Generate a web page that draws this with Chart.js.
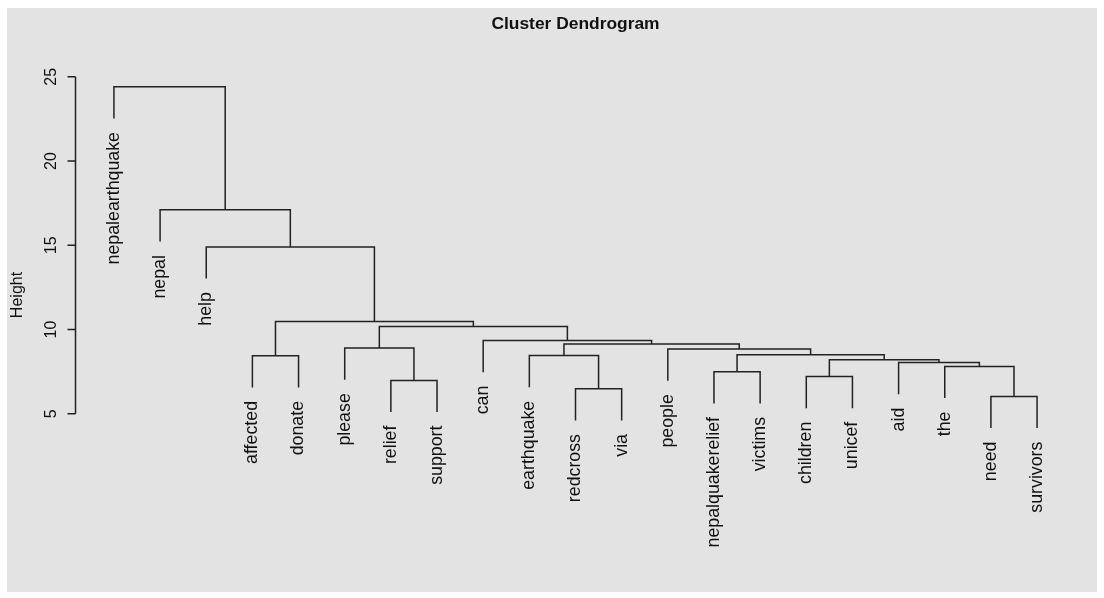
<!DOCTYPE html>
<html>
<head>
<meta charset="utf-8">
<script src="https://cdn.jsdelivr.net/npm/chart.js@4.4.0/dist/chart.umd.min.js"></script>
<style>
  html, body { margin: 0; padding: 0; background: #ffffff; }
  canvas { display: block; }
</style>
</head>
<body>
<canvas id="dendro" width="1104" height="598"></canvas>
<script>
// Leaves in plotting order (left to right)
const leafLabels = ['nepalearthquake', 'nepal', 'help', 'affected', 'donate', 'please', 'relief',
  'support', 'can', 'earthquake', 'redcross', 'via', 'people', 'nepalquakerelief', 'victims',
  'children', 'unicef', 'aid', 'the', 'need', 'survivors'];

// hclust-style merge table: negative = leaf number (1-based, plotting order),
// positive = result of an earlier merge step (1-based)
const mergeLeft   = [-20, -11, -7, -16, -14, -19, -18, 4, -4, -10, 5, -13, -6, 10, -9, 13, 9, -3, -2, -1];
const mergeRight  = [-21, -12, -8, -17, -15, 1, 6, 7, -5, 2, 8, 11, 3, 12, 14, 15, 16, 17, 18, 19];
const mergeHeight = [6.03, 6.48, 6.98, 7.21, 7.49, 7.81, 8.04, 8.20, 8.44, 8.45, 8.50, 8.84, 8.90,
  9.14, 9.35, 10.18, 10.48, 14.9, 17.1, 24.4];

const heightTicks = [5, 10, 15, 20, 25];
const hang = 1.88;          // how far each leaf stem drops below its merge
const LINE = '#222222';
const FONT = '"Liberation Sans", Arial, Helvetica, sans-serif';

// x position of every merge node = midpoint of its two children
const nodeX = [];
function childX(c) { return c < 0 ? -c : nodeX[c - 1]; }
mergeHeight.forEach((h, k) => {
  nodeX[k] = (childX(mergeLeft[k]) + childX(mergeRight[k])) / 2;
});

// parent merge height of every leaf (used for the stem end and the label)
const leafParentHeight = [];
mergeHeight.forEach((h, k) => {
  [mergeLeft[k], mergeRight[k]].forEach(c => { if (c < 0) leafParentHeight[-c - 1] = h; });
});

function childTop(c, h) { return c < 0 ? h - hang : mergeHeight[c - 1]; }

// one "U" shaped link per merge
const datasets = mergeHeight.map((h, k) => {
  const l = mergeLeft[k], r = mergeRight[k];
  const xl = childX(l), xr = childX(r);
  return {
    data: [
      { x: xl, y: childTop(l, h) },
      { x: xl, y: h },
      { x: xr, y: h },
      { x: xr, y: childTop(r, h) }
    ],
    showLine: true,
    borderColor: LINE,
    borderWidth: 1.5,
    pointRadius: 0,
    tension: 0,
    fill: false
  };
});

const dendroDecor = {
  id: 'dendroDecor',
  beforeDraw(chart) {
    const ctx = chart.ctx;
    ctx.save();
    ctx.fillStyle = '#ffffff';
    ctx.fillRect(0, 0, chart.width, chart.height);
    ctx.fillStyle = '#e3e3e3';
    ctx.fillRect(7, 8, 1090, 584);
    ctx.restore();
  },
  afterDraw(chart) {
    const ctx = chart.ctx;
    const xs = chart.scales.x, ys = chart.scales.y;
    const axisX = chart.chartArea.left - 1.5;
    ctx.save();
    ctx.strokeStyle = LINE;
    ctx.lineWidth = 1.5;
    ctx.fillStyle = '#111111';

    // height axis
    const yTop = ys.getPixelForValue(heightTicks[heightTicks.length - 1]);
    const yBot = ys.getPixelForValue(heightTicks[0]);
    ctx.beginPath();
    ctx.moveTo(axisX, yTop);
    ctx.lineTo(axisX, yBot);
    heightTicks.forEach(t => {
      const py = ys.getPixelForValue(t);
      ctx.moveTo(axisX - 8, py);
      ctx.lineTo(axisX, py);
    });
    ctx.stroke();

    ctx.font = '16px ' + FONT;
    ctx.textAlign = 'center';
    ctx.textBaseline = 'middle';
    heightTicks.forEach(t => {
      const py = ys.getPixelForValue(t);
      ctx.save();
      ctx.translate(axisX - 24, py);
      ctx.rotate(-Math.PI / 2);
      ctx.fillText(String(t), 0, 0);
      ctx.restore();
    });

    // axis title
    ctx.save();
    ctx.translate(18, 295);
    ctx.rotate(-Math.PI / 2);
    ctx.fillText('Height', 0, 0);
    ctx.restore();

    // main title
    ctx.font = 'bold 17.4px ' + FONT;
    ctx.fillText('Cluster Dendrogram', (chart.chartArea.left + chart.chartArea.right) / 2, 24);

    // leaf labels hanging below each stem
    ctx.font = '17.8px ' + FONT;
    ctx.textAlign = 'right';
    leafLabels.forEach((lab, i) => {
      const px = xs.getPixelForValue(i + 1);
      const py = ys.getPixelForValue(leafParentHeight[i] - hang) + 13.5;
      ctx.save();
      ctx.translate(px, py);
      ctx.rotate(-Math.PI / 2);
      ctx.fillText(lab, 0, 0);
      ctx.restore();
    });
    ctx.restore();
  }
};

new Chart(document.getElementById('dendro'), {
  type: 'scatter',
  data: { datasets },
  options: {
    responsive: false,
    animation: false,
    events: [],
    layout: { padding: { left: 77, right: 30, top: 70, bottom: 100 } },
    plugins: {
      legend: { display: false },
      tooltip: { enabled: false },
      title: { display: false }
    },
    scales: {
      x: { type: 'linear', min: 0.2, max: 21.8, display: false },
      y: { type: 'linear', min: 0, max: 25.4, display: false }
    }
  },
  plugins: [dendroDecor]
});
</script>
</body>
</html>
